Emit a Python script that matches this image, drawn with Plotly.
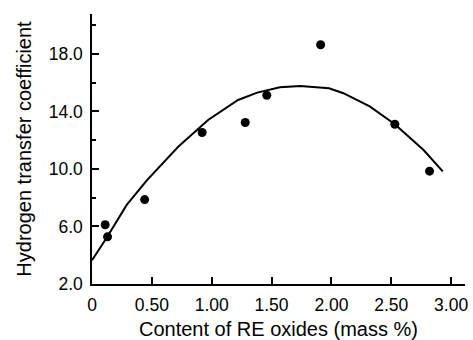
import plotly.graph_objects as go

# Measured points
pt_x = [0.11, 0.13, 0.44, 0.92, 1.28, 1.46, 1.91, 2.53, 2.82]
pt_y = [6.12, 5.28, 7.87, 12.54, 13.23, 15.13, 18.64, 13.11, 9.85]

# Fitted curve
cv_x = [0.0, 0.12, 0.29, 0.46, 0.72, 0.97, 1.22, 1.38, 1.57, 1.74, 1.98, 2.10, 2.32, 2.53, 2.77, 2.93]
cv_y = [3.65, 5.18, 7.50, 9.23, 11.55, 13.41, 14.80, 15.31, 15.68, 15.77, 15.61, 15.27, 14.35, 13.11, 11.32, 9.83]

x_ticks = [0, 0.5, 1.0, 1.5, 2.0, 2.5, 3.0]
x_labels = ["0", "0.50", "1.00", "1.50", "2.00", "2.50", "3.00"]
y_ticks = [2, 6, 10, 14, 18]
y_labels = ["2.0", "6.0", "10.0", "14.0", "18.0"]
y_minor = [8, 12, 16, 20]

FONT = "Liberation Sans, Arial, sans-serif"

fig = go.Figure()
fig.add_trace(go.Scatter(x=cv_x, y=cv_y, mode="lines",
                         line=dict(color="black", width=2), showlegend=False))
fig.add_trace(go.Scatter(x=pt_x, y=pt_y, mode="markers",
                         marker=dict(color="black", size=9), showlegend=False))

fig.update_layout(
    width=473, height=340,
    margin=dict(l=92, r=8, t=14, b=56),
    paper_bgcolor="white", plot_bgcolor="white",
    font=dict(family=FONT, color="black", size=17),
    xaxis=dict(
        range=[0, 3.116], showgrid=False, zeroline=False,
        showline=True, linecolor="black", linewidth=1.5,
        tickmode="array", tickvals=x_ticks, ticktext=x_labels,
        ticks="inside", ticklen=7, tickwidth=1.5, tickcolor="black",
        tickfont=dict(size=17.5), ticklabelstandoff=4,
        title=dict(text="Content of RE oxides (mass %)", font=dict(size=20), standoff=9),
        automargin=False,
    ),
    yaxis=dict(
        range=[2, 20.78], showgrid=False, zeroline=False,
        showline=True, linecolor="black", linewidth=1.5,
        tickmode="array", tickvals=y_ticks, ticktext=y_labels,
        ticks="inside", ticklen=7, tickwidth=1.5, tickcolor="black",
        tickfont=dict(size=17.5), ticklabelstandoff=4,
        minor=dict(tickmode="array", tickvals=y_minor, ticks="inside",
                   ticklen=4, tickwidth=1.5, tickcolor="black", showgrid=False),
        title=dict(text="Hydrogen transfer coefficient", font=dict(size=20), standoff=12),
        automargin=False,
    ),
)

fig.write_html("out.html", config={"displayModeBar": False},
               post_script="document.body.style.margin='0';")
